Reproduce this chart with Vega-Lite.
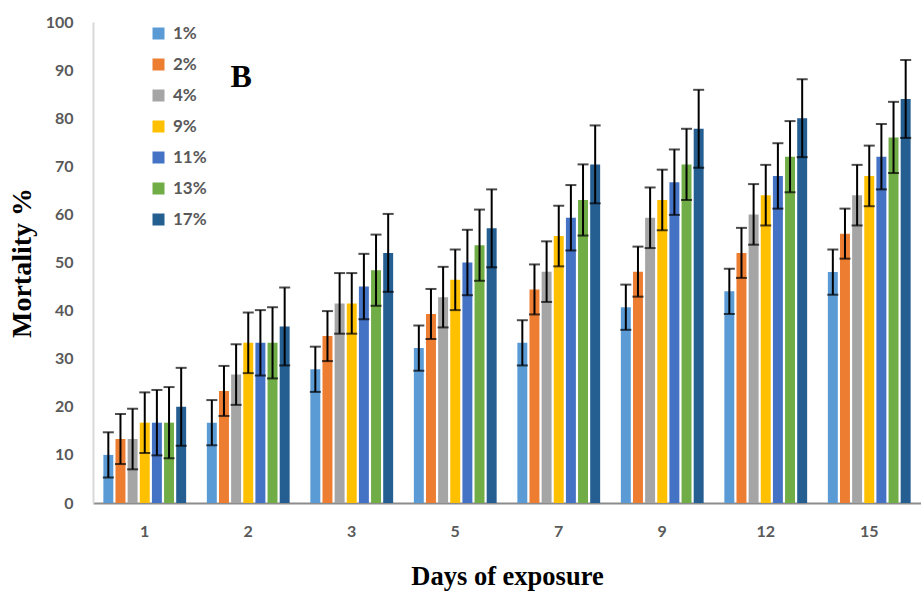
{
  "$schema": "https://vega.github.io/schema/vega-lite/v6.json",
  "autosize": {"type": "none"},
  "width": 828,
  "height": 481,
  "padding": {"left": 93, "top": 22, "right": 0, "bottom": 88},
  "background": "white",
  "config": {"view": {"stroke": null}},
  "datasets": {
    "main": [
      {"day": "1", "conc": "1%", "value": 10, "lo": 5.3, "hi": 14.7},
      {"day": "1", "conc": "2%", "value": 13.3, "lo": 8.1, "hi": 18.5},
      {"day": "1", "conc": "4%", "value": 13.3, "lo": 7.0, "hi": 19.6},
      {"day": "1", "conc": "9%", "value": 16.7, "lo": 10.4, "hi": 23.0},
      {"day": "1", "conc": "11%", "value": 16.7, "lo": 9.9, "hi": 23.5},
      {"day": "1", "conc": "13%", "value": 16.7, "lo": 9.3, "hi": 24.1},
      {"day": "1", "conc": "17%", "value": 20, "lo": 11.9, "hi": 28.1},
      {"day": "2", "conc": "1%", "value": 16.7, "lo": 12.0, "hi": 21.4},
      {"day": "2", "conc": "2%", "value": 23.3, "lo": 18.1, "hi": 28.5},
      {"day": "2", "conc": "4%", "value": 26.7, "lo": 20.4, "hi": 33.0},
      {"day": "2", "conc": "9%", "value": 33.3, "lo": 27.0, "hi": 39.6},
      {"day": "2", "conc": "11%", "value": 33.3, "lo": 26.5, "hi": 40.1},
      {"day": "2", "conc": "13%", "value": 33.3, "lo": 25.9, "hi": 40.7},
      {"day": "2", "conc": "17%", "value": 36.7, "lo": 28.6, "hi": 44.8},
      {"day": "3", "conc": "1%", "value": 27.8, "lo": 23.1, "hi": 32.5},
      {"day": "3", "conc": "2%", "value": 34.7, "lo": 29.5, "hi": 39.9},
      {"day": "3", "conc": "4%", "value": 41.5, "lo": 35.2, "hi": 47.8},
      {"day": "3", "conc": "9%", "value": 41.5, "lo": 35.2, "hi": 47.8},
      {"day": "3", "conc": "11%", "value": 45.0, "lo": 38.2, "hi": 51.8},
      {"day": "3", "conc": "13%", "value": 48.4, "lo": 41.0, "hi": 55.8},
      {"day": "3", "conc": "17%", "value": 52.0, "lo": 43.9, "hi": 60.1},
      {"day": "5", "conc": "1%", "value": 32.2, "lo": 27.5, "hi": 36.9},
      {"day": "5", "conc": "2%", "value": 39.3, "lo": 34.1, "hi": 44.5},
      {"day": "5", "conc": "4%", "value": 42.8, "lo": 36.5, "hi": 49.1},
      {"day": "5", "conc": "9%", "value": 46.4, "lo": 40.1, "hi": 52.7},
      {"day": "5", "conc": "11%", "value": 50.0, "lo": 43.2, "hi": 56.8},
      {"day": "5", "conc": "13%", "value": 53.6, "lo": 46.2, "hi": 61.0},
      {"day": "5", "conc": "17%", "value": 57.1, "lo": 49.0, "hi": 65.2},
      {"day": "7", "conc": "1%", "value": 33.3, "lo": 28.6, "hi": 38.0},
      {"day": "7", "conc": "2%", "value": 44.4, "lo": 39.2, "hi": 49.6},
      {"day": "7", "conc": "4%", "value": 48.1, "lo": 41.8, "hi": 54.4},
      {"day": "7", "conc": "9%", "value": 55.5, "lo": 49.2, "hi": 61.8},
      {"day": "7", "conc": "11%", "value": 59.3, "lo": 52.5, "hi": 66.1},
      {"day": "7", "conc": "13%", "value": 63.0, "lo": 55.6, "hi": 70.4},
      {"day": "7", "conc": "17%", "value": 70.4, "lo": 62.3, "hi": 78.5},
      {"day": "9", "conc": "1%", "value": 40.7, "lo": 36.0, "hi": 45.4},
      {"day": "9", "conc": "2%", "value": 48.1, "lo": 42.9, "hi": 53.3},
      {"day": "9", "conc": "4%", "value": 59.3, "lo": 53.0, "hi": 65.6},
      {"day": "9", "conc": "9%", "value": 63.0, "lo": 56.7, "hi": 69.3},
      {"day": "9", "conc": "11%", "value": 66.7, "lo": 59.9, "hi": 73.5},
      {"day": "9", "conc": "13%", "value": 70.4, "lo": 63.0, "hi": 77.8},
      {"day": "9", "conc": "17%", "value": 77.8, "lo": 69.7, "hi": 85.9},
      {"day": "12", "conc": "1%", "value": 44, "lo": 39.3, "hi": 48.7},
      {"day": "12", "conc": "2%", "value": 52, "lo": 46.8, "hi": 57.2},
      {"day": "12", "conc": "4%", "value": 60, "lo": 53.7, "hi": 66.3},
      {"day": "12", "conc": "9%", "value": 64, "lo": 57.7, "hi": 70.3},
      {"day": "12", "conc": "11%", "value": 68, "lo": 61.2, "hi": 74.8},
      {"day": "12", "conc": "13%", "value": 72, "lo": 64.6, "hi": 79.4},
      {"day": "12", "conc": "17%", "value": 80, "lo": 71.9, "hi": 88.1},
      {"day": "15", "conc": "1%", "value": 48, "lo": 43.3, "hi": 52.7},
      {"day": "15", "conc": "2%", "value": 56, "lo": 50.8, "hi": 61.2},
      {"day": "15", "conc": "4%", "value": 64, "lo": 57.7, "hi": 70.3},
      {"day": "15", "conc": "9%", "value": 68, "lo": 61.7, "hi": 74.3},
      {"day": "15", "conc": "11%", "value": 72, "lo": 65.2, "hi": 78.8},
      {"day": "15", "conc": "13%", "value": 76, "lo": 68.6, "hi": 83.4},
      {"day": "15", "conc": "17%", "value": 84, "lo": 75.9, "hi": 92.1}
    ],
    "label": [{"day": "2", "v": 88.5, "t": "B"}]
  },
  "data": {"name": "main"},
  "encoding": {
    "x": {
      "field": "day", "type": "nominal",
      "sort": ["1", "2", "3", "5", "7", "9", "12", "15"],
      "scale": {"paddingInner": 0.2, "paddingOuter": 0.1},
      "axis": {
        "title": "Days of exposure", "labelAngle": 0,
        "domainColor": "#8c8c8c", "domainWidth": 2, "ticks": false,
        "labelFont": "Lato", "labelFontSize": 16, "labelFontWeight": "bold", "labelColor": "#595959",
        "labelPadding": 20,
        "titleFont": "Liberation Serif", "titleFontSize": 26.5, "titleFontWeight": "bold", "titleColor": "#000000",
        "titlePadding": 24
      }
    },
    "xOffset": {"field": "conc", "type": "nominal", "sort": ["1%", "2%", "4%", "9%", "11%", "13%", "17%"], "scale": {"paddingInner": 0.18}}
  },
  "layer": [
    {
      "mark": {"type": "bar"},
      "encoding": {
        "y": {
          "field": "value", "type": "quantitative",
          "scale": {"domain": [0, 100], "nice": false},
          "axis": {
            "title": "Mortality %", "values": [0, 10, 20, 30, 40, 50, 60, 70, 80, 90, 100],
            "grid": false, "ticks": false, "domainColor": "#d9d9d9", "domainWidth": 2,
            "labelFont": "Lato", "labelFontSize": 16, "labelFontWeight": "bold", "labelColor": "#595959",
            "labelPadding": 20,
            "titleFont": "Liberation Serif", "titleFontSize": 28, "titleFontWeight": "bold", "titleColor": "#000000",
            "titlePadding": 9
          }
        },
        "color": {
          "field": "conc", "type": "nominal",
          "sort": ["1%", "2%", "4%", "9%", "11%", "13%", "17%"],
          "scale": {
            "domain": ["1%", "2%", "4%", "9%", "11%", "13%", "17%"],
            "range": ["#5B9BD5", "#ED7D31", "#A5A5A5", "#FFC000", "#4472C4", "#70AD47", "#255E91"]
          },
          "legend": {
            "title": null, "orient": "none", "legendX": 57, "legendY": 3,
            "symbolType": "square", "symbolSize": 144, "symbolStrokeWidth": 0,
            "labelFont": "Lato", "labelFontSize": 17, "labelFontWeight": "bold", "labelColor": "#595959",
            "rowPadding": 13, "labelOffset": 6
          }
        }
      }
    },
    {
      "mark": {"type": "rule", "color": "#000000", "strokeWidth": 2},
      "encoding": {
        "y": {"field": "lo", "type": "quantitative"},
        "y2": {"field": "hi"}
      }
    },
    {
      "mark": {"type": "tick", "color": "#000000", "thickness": 2, "size": 11, "orient": "horizontal"},
      "encoding": {"y": {"field": "lo", "type": "quantitative"}}
    },
    {
      "mark": {"type": "tick", "color": "#000000", "thickness": 2, "size": 11, "orient": "horizontal"},
      "encoding": {"y": {"field": "hi", "type": "quantitative"}}
    },
    {
      "data": {"name": "label"},
      "mark": {"type": "text", "font": "Liberation Serif", "fontWeight": "bold", "fontSize": 32, "color": "#000000", "dx": -7, "baseline": "middle", "align": "center"},
      "encoding": {
        "x": {"field": "day", "type": "nominal"},
        "xOffset": null,
        "y": {"field": "v", "type": "quantitative"},
        "text": {"field": "t"}
      }
    }
  ]
}
